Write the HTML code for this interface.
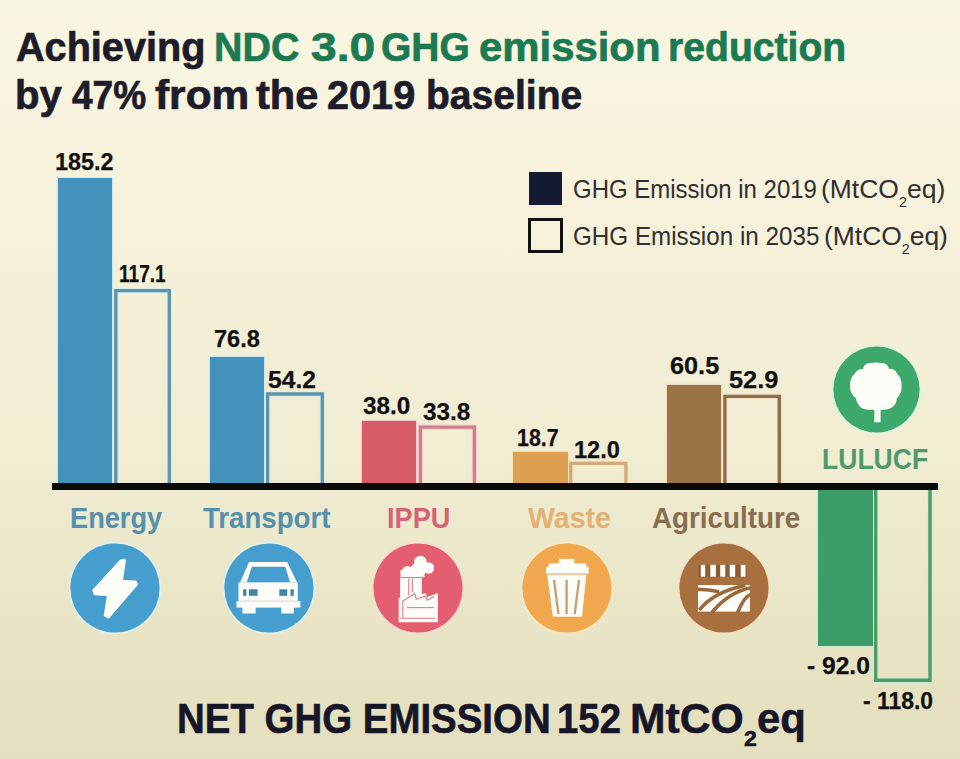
<!DOCTYPE html>
<html><head><meta charset="utf-8">
<style>
html,body{margin:0;padding:0;}
body{width:960px;height:759px;position:relative;overflow:hidden;font-family:"Liberation Sans",sans-serif;background:linear-gradient(180deg,#f8f5e1 0%,#f7f3dd 20%,#f4f0d8 38%,#f1edd3 58%,#ebe7ca 75%,#e7e2c2 88%,#e4dfbe 100%);}
.a{position:absolute;white-space:nowrap;line-height:1;transform-origin:0 0;}
.bar{position:absolute;box-sizing:border-box;}
.sub{font-size:14px;position:relative;top:8.4px;}
.subb{font-size:23.6px;position:relative;top:13px;}
</style></head><body>

<div class="bar" style="left:58px;top:178px;width:54px;height:305px;background:#4392bb;box-shadow:0 0 0 1.2px #c9eaf0;"></div>
<div class="bar" style="left:210px;top:357px;width:54px;height:126px;background:#4392bb;box-shadow:0 0 0 1.2px #c9eaf0;"></div>
<div class="bar" style="left:362px;top:421px;width:54px;height:62px;background:#d75c68;box-shadow:0 0 0 1.2px #f6cfcf;"></div>
<div class="bar" style="left:513px;top:452px;width:55px;height:31px;background:#dca050;box-shadow:0 0 0 1.2px #f8dfb8;"></div>
<div class="bar" style="left:667px;top:385px;width:54px;height:98px;background:#9a7445;box-shadow:0 0 0 1.2px #f0dcc0;"></div>
<div class="bar" style="left:818px;top:489px;width:55px;height:157px;background:#3c9d67;box-shadow:0 0 0 1.2px #cdeed4;"></div>
<svg class="a" style="left:0;top:0" width="960" height="759" viewBox="0 0 960 759">
<g fill="none" stroke-linejoin="miter">
<path d="M115.8 483 V290.6 H169.3 V483" stroke="#d3ecef" stroke-width="5.2"/><path d="M115.8 483 V290.6 H169.3 V483" stroke="#6093a6" stroke-width="3.3"/>
<path d="M267.6 483 V394 H322.3 V483" stroke="#d3ecef" stroke-width="5.2"/><path d="M267.6 483 V394 H322.3 V483" stroke="#6093a6" stroke-width="3.3"/>
<path d="M420.4 483 V427.2 H474.4 V483" stroke="#f6d2d2" stroke-width="5.2"/><path d="M420.4 483 V427.2 H474.4 V483" stroke="#cf8089" stroke-width="3.3"/>
<path d="M570.7 483 V463.3 H625.9 V483" stroke="#f8e4c4" stroke-width="5.2"/><path d="M570.7 483 V463.3 H625.9 V483" stroke="#d3ab78" stroke-width="3.3"/>
<path d="M724.9 483 V396.4 H779.3 V483" stroke="#f6e2c8" stroke-width="5.2"/><path d="M724.9 483 V396.4 H779.3 V483" stroke="#8c6c4a" stroke-width="3.3"/>
<path d="M875.7 489 V680.3 H930 V489" stroke="#cdeed2" stroke-width="5.2"/><path d="M875.7 489 V680.3 H930 V489" stroke="#4e9a68" stroke-width="3.4"/>
</g></svg>
<div class="bar" style="left:51.7px;top:482.5px;width:886.5px;height:7px;background:#0a0a0a;"></div>
<div class="bar" style="left:529px;top:172px;width:33px;height:33px;background:#151a33;"></div>
<div class="bar" style="left:528px;top:218px;width:35px;height:35px;border:3px solid #111;"></div>
<svg class="a" style="left:70px;top:543px;overflow:visible" width="90" height="90" viewBox="0 0 90 90"><circle cx="45.0" cy="45.0" r="45.4" fill="none" stroke="#d8f2f4" stroke-width="1.8" opacity="0.75"/><circle cx="45.0" cy="45.0" r="44.6" fill="#469ecf"/><path d="M50.8 18 L54.5 17.2 L51.3 38.2 L65.3 39 L66.4 41.3 L38.3 73.9 L35.3 72.3 L38.6 51.8 L25 50.7 L23.8 47.4 Z" fill="#fdfcf6" stroke="#fdfcf6" stroke-width="3" stroke-linejoin="round"/></svg>
<svg class="a" style="left:224px;top:543px;overflow:visible" width="90" height="90" viewBox="0 0 90 90"><circle cx="45.0" cy="45.0" r="45.4" fill="none" stroke="#d8f2f4" stroke-width="1.8" opacity="0.75"/><circle cx="45.0" cy="45.0" r="44.6" fill="#469ecf"/><path d="M25 19.1 H63.2 L73.1 39.5 H16.1 Z" fill="#fdfcf6"/>
<path d="M27.9 23.7 H61.3 L66.1 39.5 H22.7 Z" fill="#469ecf"/>
<rect x="14.5" y="39.5" width="59.3" height="18.5" fill="#fdfcf6"/>
<rect x="12.5" y="58" width="63.9" height="6.6" fill="#fdfcf6"/>
<rect x="18.4" y="64" width="13.2" height="6.5" fill="#fdfcf6"/>
<rect x="57.3" y="64" width="12.5" height="6.5" fill="#fdfcf6"/>
<rect x="14.5" y="57.6" width="59.3" height="0.9" fill="#c8d8dc"/><g fill="#3f86ac"><rect x="19.1" y="46.3" width="3.3" height="6.5"/><rect x="25" y="46.3" width="8.6" height="6.5"/><rect x="55.3" y="46.3" width="7.9" height="6.5"/><rect x="66.5" y="46.3" width="3.3" height="6.5"/></g></svg>
<svg class="a" style="left:373px;top:543px;overflow:visible" width="90" height="90" viewBox="0 0 90 90"><circle cx="45.0" cy="45.0" r="45.4" fill="none" stroke="#fbd8d4" stroke-width="1.8" opacity="0.75"/><circle cx="45.0" cy="45.0" r="44.6" fill="#e45e72"/><g fill="#fdfcf6">
<circle cx="47.4" cy="19" r="6.3"/><circle cx="55.5" cy="25" r="5.8"/><circle cx="34.5" cy="28.5" r="5.6"/><circle cx="45" cy="27" r="7.5"/><rect x="27.5" y="27" width="24" height="7.2"/>
<rect x="27.1" y="34" width="21.7" height="20"/>
<path d="M25.7 55 L41.8 48.5 L43.5 53 L52.4 50 L54.3 54 L64.9 50 V79.3 H25.7 Z"/>
</g>
<g stroke="#e07a88" stroke-width="1.1" fill="none">
<line x1="27.5" y1="34.6" x2="48.8" y2="34.6"/><line x1="35.8" y1="35.5" x2="35.8" y2="52.6"/><line x1="39.3" y1="35.5" x2="39.3" y2="49.5"/>
<polyline points="29.8,75.2 29.8,58.1 41.8,50.7 43.2,56.3 52.4,53 54.3,57.2 61,53.5"/>
<line x1="34" y1="64.6" x2="60.7" y2="64.6"/><line x1="27.5" y1="75.2" x2="62.5" y2="75.2"/>
</g></svg>
<svg class="a" style="left:522px;top:543px;overflow:visible" width="90" height="90" viewBox="0 0 90 90"><circle cx="45.0" cy="45.0" r="45.4" fill="none" stroke="#fde8c4" stroke-width="1.8" opacity="0.75"/><circle cx="45.0" cy="45.0" r="44.6" fill="#f0a74e"/><g fill="#fdfcf6"><rect x="36.9" y="15.9" width="15.4" height="5.2"/><rect x="26.6" y="20.4" width="37.7" height="4"/><rect x="24" y="23.8" width="42.8" height="6.8" rx="1"/>
<rect x="25" y="30.4" width="39.5" height="1.9" fill="#e6cfa6"/>
<path d="M25.3 32.2 H64.3 L60 73.7 H30.9 Z"/></g>
<g stroke="#c2a07a" stroke-width="2.3"><line x1="32.1" y1="36.9" x2="36.4" y2="71.1"/><line x1="44.6" y1="36.9" x2="44.6" y2="71.1"/><line x1="57" y1="36.9" x2="52.7" y2="71.1"/></g></svg>
<svg class="a" style="left:679px;top:543px;overflow:visible" width="90" height="90" viewBox="0 0 90 90"><circle cx="45.0" cy="45.0" r="45.4" fill="none" stroke="#f4dcc0" stroke-width="1.8" opacity="0.75"/><circle cx="45.0" cy="45.0" r="44.6" fill="#a8703f"/><rect x="19.5" y="21.8" width="48" height="11.9" fill="#8a5c33"/>
<g fill="#fdfcf6"><rect x="21.8" y="21.8" width="4.4" height="11.9"/><rect x="31.3" y="21.8" width="5.6" height="11.9"/><rect x="41.2" y="21.8" width="5.1" height="11.9"/><rect x="50.7" y="21.8" width="5.5" height="11.9"/><rect x="61.7" y="21.8" width="4.8" height="11.9"/>
<rect x="19" y="42" width="51.9" height="26.6"/></g>
<g stroke="#9a6a3d" stroke-width="3.6" fill="none">
<path d="M20.4 67 Q33.6 49.4 66.5 42.2"/><path d="M19 46.3 Q30 46.8 40.2 48.7"/><path d="M32.9 69.5 Q49.4 49.4 71.8 44.8"/><path d="M58.6 69.5 Q65.2 53.4 71.8 51.4"/></g></svg>
<svg class="a" style="left:833px;top:346px;overflow:visible" width="87" height="87" viewBox="0 0 87 87"><circle cx="43.5" cy="43.5" r="43.9" fill="none" stroke="#d6f5dc" stroke-width="1.8" opacity="0.75"/><circle cx="43.5" cy="43.5" r="43.1" fill="#3ca86c"/><g fill="#fdfcf6"><path d="M30.4 22.8 Q30 16.6 43 16.6 Q56 16.6 55.6 22.8 Q62.5 22.5 64 27.6 Q68.8 32 68.6 40 Q68.8 48 63.8 52.3 Q63.6 56.5 61.8 58.8 Q58 63.8 50 63.8 L36 63.8 Q28 63.6 25.6 58.8 Q23.2 56 23 52.3 Q16.8 48 17 40 Q16.8 32 21.8 27.6 Q24 23 30.4 22.8 Z"/>
<rect x="41.3" y="60" width="6.3" height="16.3"/></g></svg>
<div id="ta0" class="a" style="left:15.61px;top:26.55px;font-size:40.6px;font-weight:bold;color:#1c1c2b;transform:scaleX(0.9765);-webkit-text-stroke:0.7px currentColor;">Achieving</div>
<div id="ta1" class="a" style="left:213.66px;top:26.55px;font-size:40.6px;font-weight:bold;color:#1b7a52;transform:scaleX(0.9707);-webkit-text-stroke:0.7px currentColor;">NDC</div>
<div id="ta2" class="a" style="left:310.76px;top:26.55px;font-size:40.6px;font-weight:bold;color:#1b7a52;transform:scaleX(1.1366);-webkit-text-stroke:0.7px currentColor;">3.0</div>
<div id="ta3" class="a" style="left:380.85px;top:26.55px;font-size:40.6px;font-weight:bold;color:#1b7a52;transform:scaleX(0.9608);-webkit-text-stroke:0.7px currentColor;">GHG</div>
<div id="ta4" class="a" style="left:478.55px;top:26.55px;font-size:40.6px;font-weight:bold;color:#1b7a52;transform:scaleX(1.0318);-webkit-text-stroke:0.7px currentColor;">emission</div>
<div id="ta5" class="a" style="left:667.88px;top:26.55px;font-size:40.6px;font-weight:bold;color:#1b7a52;transform:scaleX(0.9641);-webkit-text-stroke:0.7px currentColor;">reduction</div>
<div id="tb0" class="a" style="left:14.81px;top:75.25px;font-size:40.6px;font-weight:bold;color:#1c1c2b;transform:scaleX(0.9893);-webkit-text-stroke:0.7px currentColor;">by</div>
<div id="tb1" class="a" style="left:72.04px;top:75.25px;font-size:40.6px;font-weight:bold;color:#1c1c2b;transform:scaleX(0.9126);-webkit-text-stroke:0.7px currentColor;">47%</div>
<div id="tb2" class="a" style="left:154.81px;top:75.25px;font-size:40.6px;font-weight:bold;color:#1c1c2b;transform:scaleX(1.0451);-webkit-text-stroke:0.7px currentColor;">from</div>
<div id="tb3" class="a" style="left:256.40px;top:75.25px;font-size:40.6px;font-weight:bold;color:#1c1c2b;transform:scaleX(1.0250);-webkit-text-stroke:0.7px currentColor;">the</div>
<div id="tb4" class="a" style="left:326.62px;top:75.25px;font-size:40.6px;font-weight:bold;color:#1c1c2b;transform:scaleX(0.9773);-webkit-text-stroke:0.7px currentColor;">2019</div>
<div id="tb5" class="a" style="left:425.67px;top:75.25px;font-size:40.6px;font-weight:bold;color:#1c1c2b;transform:scaleX(0.9625);-webkit-text-stroke:0.7px currentColor;">baseline</div>
<div id="l1" class="a" style="left:572.89px;top:177.20px;font-size:25.8px;font-weight:normal;color:#303030;transform:scaleX(0.9298);">GHG Emission in 2019</div>
<div id="l1b" class="a" style="left:820.95px;top:177.20px;font-size:25.8px;font-weight:normal;color:#303030;transform:scaleX(1.0263);">(MtCO<span class="sub">2</span>eq)</div>
<div id="l2" class="a" style="left:572.88px;top:224.40px;font-size:25.8px;font-weight:normal;color:#303030;transform:scaleX(0.9389);">GHG Emission in 2035</div>
<div id="l2b" class="a" style="left:823.96px;top:224.40px;font-size:25.8px;font-weight:normal;color:#303030;transform:scaleX(1.0238);">(MtCO<span class="sub">2</span>eq)</div>
<div id="n1852" class="a" style="left:55.37px;top:150.55px;font-size:23px;font-weight:bold;color:#111;transform:scaleX(1.0172);-webkit-text-stroke:0.25px currentColor;">185.2</div>
<div id="n1171" class="a" style="left:119.17px;top:262.80px;font-size:23px;font-weight:bold;color:#111;transform:scaleX(0.8292);-webkit-text-stroke:0.25px currentColor;">117.1</div>
<div id="n768" class="a" style="left:213.98px;top:328.35px;font-size:23px;font-weight:bold;color:#111;transform:scaleX(1.0243);-webkit-text-stroke:0.25px currentColor;">76.8</div>
<div id="n542" class="a" style="left:268.32px;top:369.10px;font-size:23px;font-weight:bold;color:#111;transform:scaleX(1.0712);-webkit-text-stroke:0.25px currentColor;">54.2</div>
<div id="n380" class="a" style="left:363.18px;top:394.60px;font-size:23px;font-weight:bold;color:#111;transform:scaleX(1.0546);-webkit-text-stroke:0.25px currentColor;">38.0</div>
<div id="n338" class="a" style="left:422.98px;top:400.95px;font-size:23px;font-weight:bold;color:#111;transform:scaleX(1.0574);-webkit-text-stroke:0.25px currentColor;">33.8</div>
<div id="n187" class="a" style="left:517.30px;top:427.10px;font-size:23px;font-weight:bold;color:#111;transform:scaleX(0.9288);-webkit-text-stroke:0.25px currentColor;">18.7</div>
<div id="n120" class="a" style="left:573.98px;top:438.70px;font-size:23px;font-weight:bold;color:#111;transform:scaleX(1.0233);-webkit-text-stroke:0.25px currentColor;">12.0</div>
<div id="n605" class="a" style="left:670.26px;top:355.30px;font-size:23px;font-weight:bold;color:#111;transform:scaleX(1.0987);-webkit-text-stroke:0.25px currentColor;">60.5</div>
<div id="n529" class="a" style="left:728.53px;top:369.00px;font-size:23px;font-weight:bold;color:#111;transform:scaleX(1.1013);-webkit-text-stroke:0.25px currentColor;">52.9</div>
<div id="n920" class="a" style="left:806.75px;top:654.70px;font-size:23px;font-weight:bold;color:#111;transform:scaleX(1.0692);-webkit-text-stroke:0.25px currentColor;">- 92.0</div>
<div id="n1180" class="a" style="left:863.39px;top:690.15px;font-size:23px;font-weight:bold;color:#111;transform:scaleX(0.9949);-webkit-text-stroke:0.25px currentColor;">- 118.0</div>
<div id="lEnergy" class="a" style="left:69.54px;top:504.40px;font-size:29px;font-weight:bold;color:#5590ae;transform:scaleX(0.9375);">Energy</div>
<div id="lTransport" class="a" style="left:203.20px;top:503.75px;font-size:29px;font-weight:bold;color:#5590ae;transform:scaleX(0.9530);">Transport</div>
<div id="lIPPU" class="a" style="left:387.13px;top:503.75px;font-size:29px;font-weight:bold;color:#d46474;transform:scaleX(0.9361);">IPPU</div>
<div id="lWaste" class="a" style="left:527.99px;top:503.75px;font-size:29px;font-weight:bold;color:#e2b173;transform:scaleX(0.9821);">Waste</div>
<div id="lAgri" class="a" style="left:652.04px;top:503.75px;font-size:29px;font-weight:bold;color:#8a6d4e;transform:scaleX(0.9576);">Agriculture</div>
<div id="lLULUCF" class="a" style="left:821.74px;top:445.25px;font-size:29px;font-weight:bold;color:#50996a;transform:scaleX(0.9151);">LULUCF</div>
<div id="net1" class="a" style="left:176.65px;top:697.90px;font-size:42.5px;font-weight:bold;color:#161628;transform:scaleX(0.9042);-webkit-text-stroke:0.6px currentColor;">NET GHG EMISSION</div>
<div id="net2" class="a" style="left:556.65px;top:697.90px;font-size:42.5px;font-weight:bold;color:#161628;transform:scaleX(0.9017);-webkit-text-stroke:0.6px currentColor;">152</div>
<div id="net3" class="a" style="left:630.19px;top:697.90px;font-size:42.5px;font-weight:bold;color:#161628;transform:scaleX(1.0029);-webkit-text-stroke:0.6px currentColor;">MtCO</div>
<div id="net4" class="a" style="left:756.81px;top:697.90px;font-size:42.5px;font-weight:bold;color:#161628;transform:scaleX(0.9834);-webkit-text-stroke:0.6px currentColor;">eq</div>
<div id="net5" class="a" style="left:744.25px;top:729.00px;font-size:21.5px;font-weight:bold;color:#161628;transform:scaleX(1.0666);-webkit-text-stroke:0.6px currentColor;">2</div>
</body></html>
